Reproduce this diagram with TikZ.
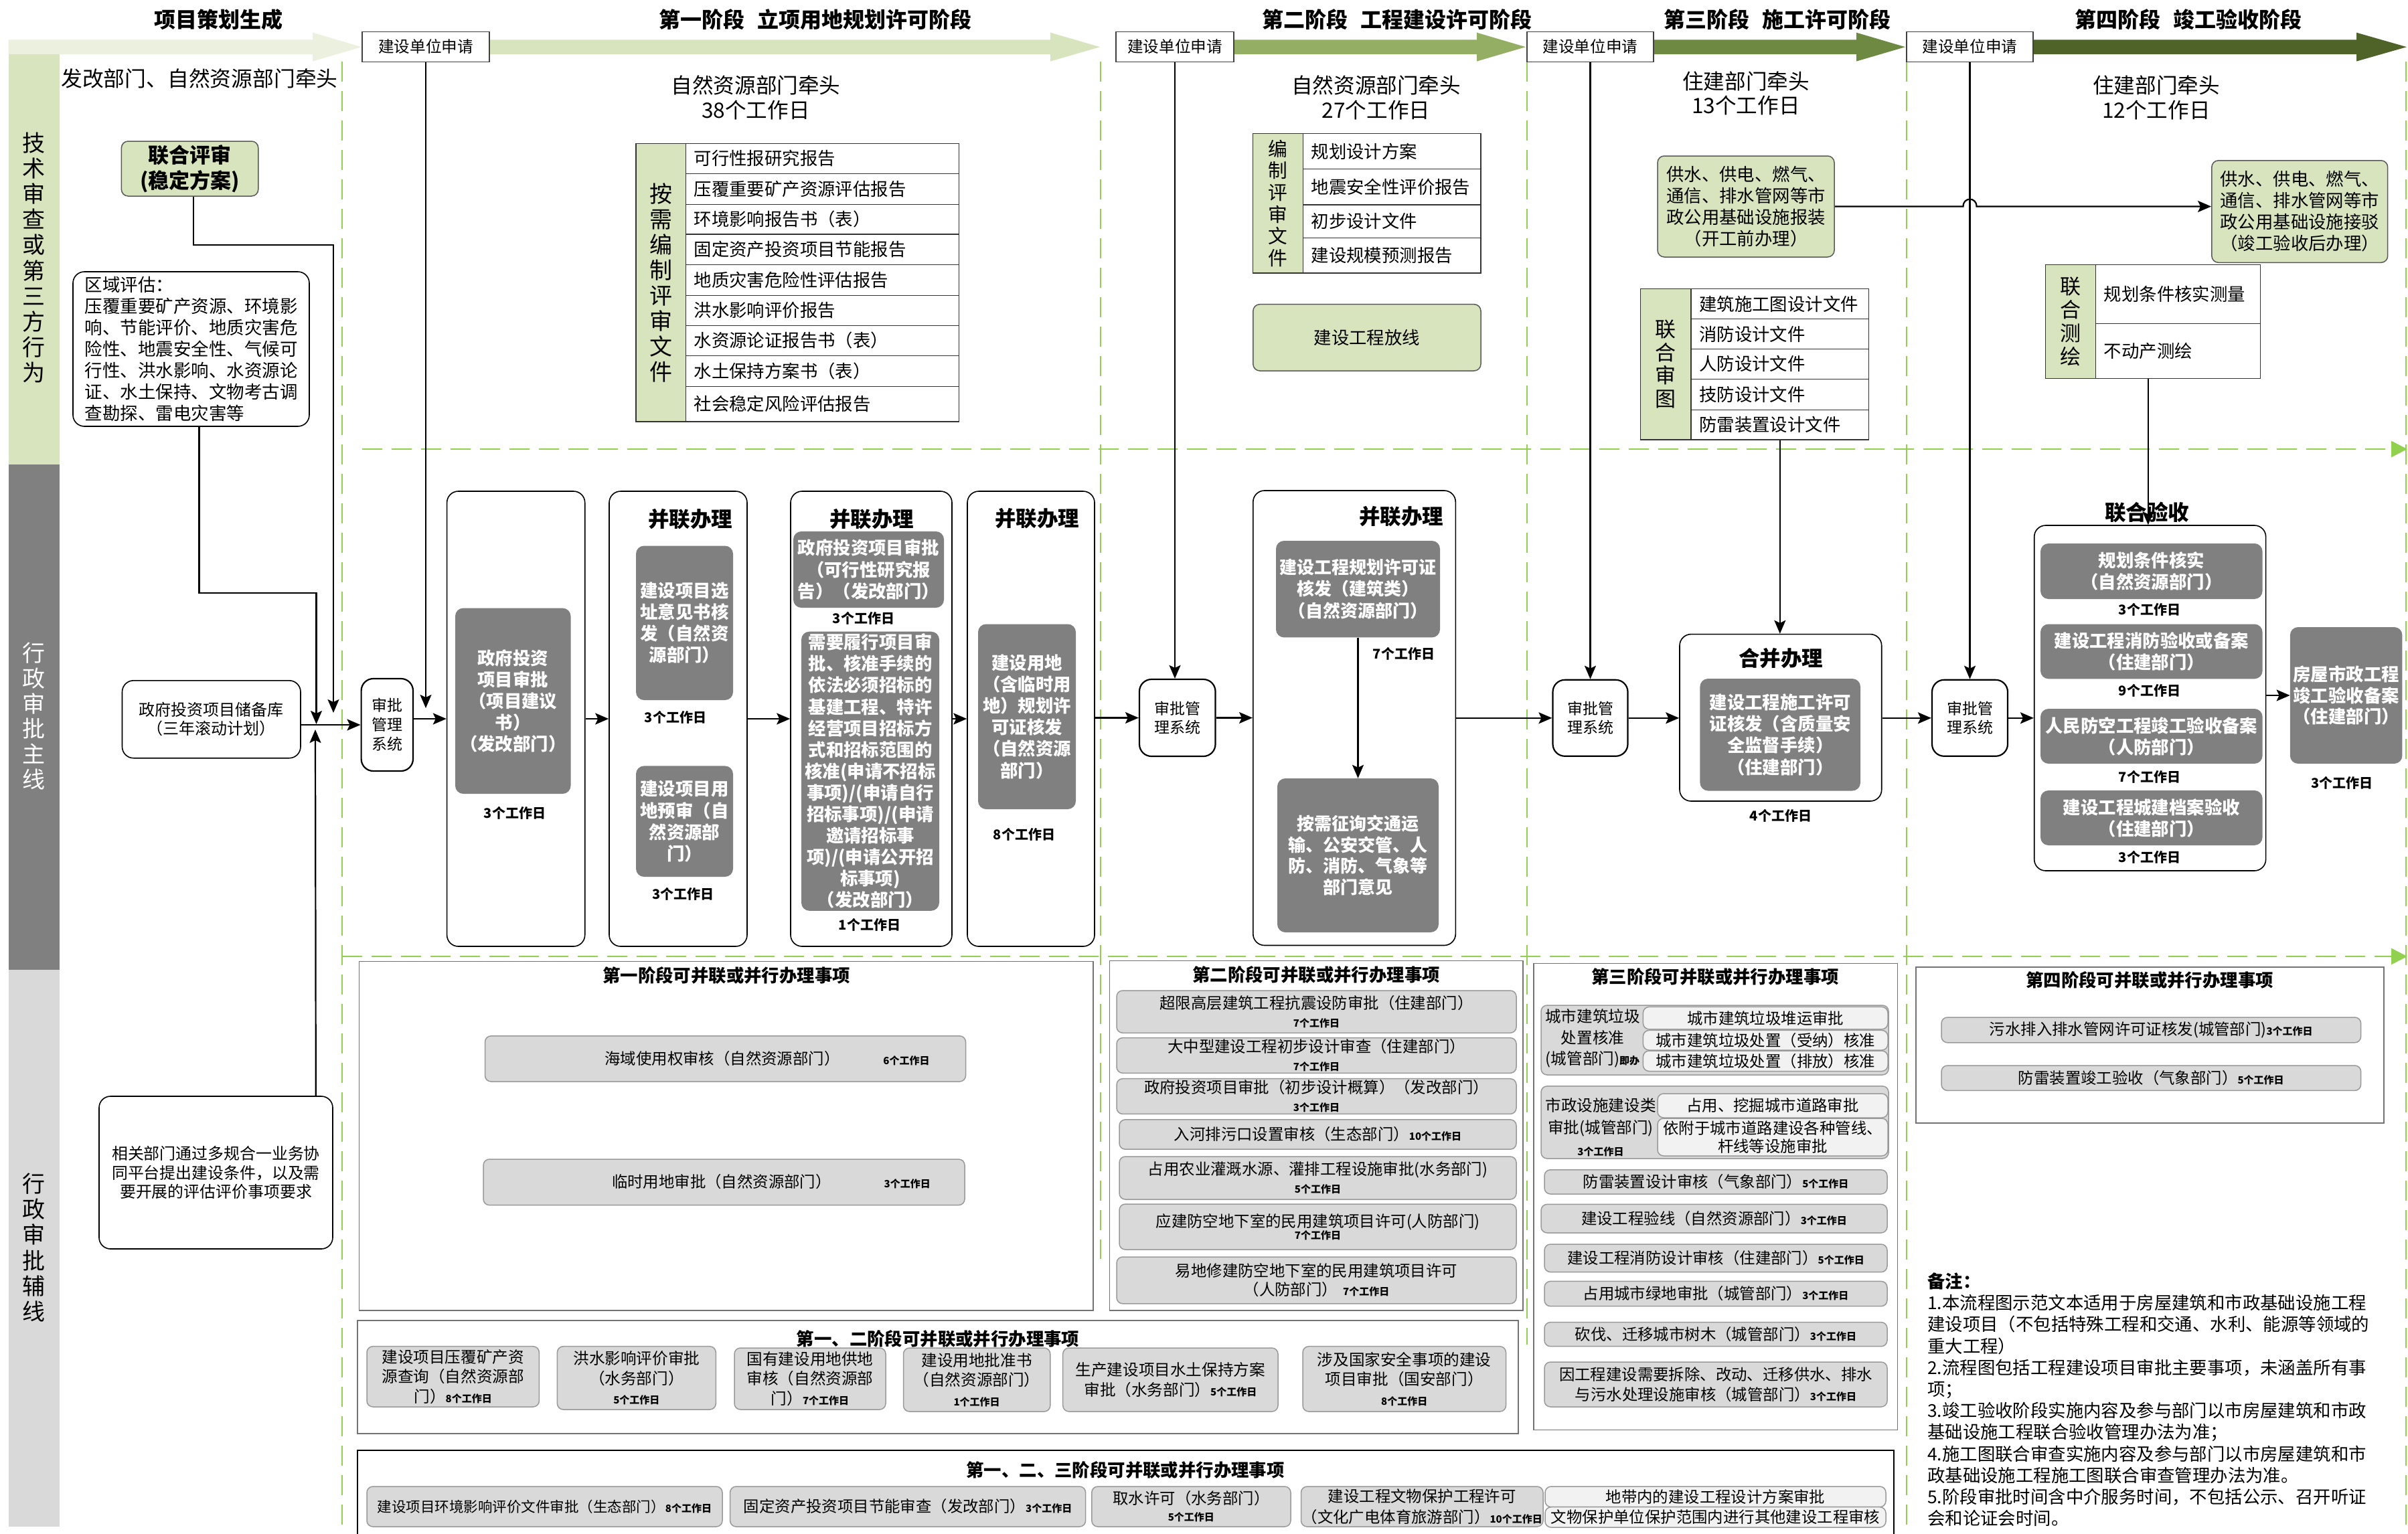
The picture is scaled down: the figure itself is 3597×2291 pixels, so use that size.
\documentclass[tikz,border=0pt]{standalone}
\usepackage{fontspec}
\setmainfont{Noto Sans CJK SC}
\usetikzlibrary{arrows.meta,calc}
\definecolor{ga1}{HTML}{EBF1DE}
\definecolor{ga2}{HTML}{D7E4BD}
\definecolor{ga3}{HTML}{94AF64}
\definecolor{ga4}{HTML}{6E8A42}
\definecolor{ga5}{HTML}{4F6228}
\definecolor{lgreen}{HTML}{D7E4BD}
\definecolor{lanegray}{HTML}{808080}
\definecolor{dgray}{HTML}{808080}
\definecolor{igray}{HTML}{D9D9D9}
\definecolor{ilight}{HTML}{F2F2F2}
\definecolor{dashg}{HTML}{92D050}
\newcommand\myfs[2]{\fontsize{#1pt}{#2pt}\selectfont}
\newcommand\dd[1]{{\bfseries\myfs{15}{17}#1}}
\newcommand\bx[7]{\node[#2,minimum width={(#5)-(#3)},minimum height={(#6)-(#4)}] (#1) at ({((#3)+(#5))/2},{((#4)+(#6))/2}) {#7};}
\tikzset{
  conn/.style={draw=black,line width=2.2pt,-{Stealth[length=20pt,width=17pt,inset=4pt]}},
  gdash/.style={draw=dashg,line width=2.5pt,dash pattern=on 30pt off 14pt},
  apbox/.style={draw=black!75,line width=1.5pt,fill=white,inner sep=0pt,font=\myfs{23.6}{28}},
  wbox/.style={draw=black,line width=1.6pt,fill=white,rounded corners=17pt,inner sep=0pt},
  sbox/.style={draw=black,line width=2.2pt,fill=white,rounded corners=18pt,inner sep=0pt,align=center,font=\myfs{23}{29}},
  dbox/.style={fill=dgray,rounded corners=12pt,inner sep=0pt,align=center,text=white,font=\bfseries\myfs{26.4}{32.2}},
  gbox/.style={draw=black!65,line width=1.5pt,fill=lgreen,rounded corners=10pt,inner sep=0pt,align=center,font=\myfs{26.4}{32}},
  cell/.style={draw=black!80,line width=1.3pt,fill=white,inner xsep=12pt,inner ysep=0pt,align=left,font=\myfs{26.4}{30}},
  lcell/.style={draw=black!80,line width=1.3pt,fill=lgreen,inner sep=0pt,align=center},
  grpbox/.style={draw=black!55,line width=1.5pt,fill=white,inner sep=0pt},
  itembox/.style={draw=black!40,line width=1.5pt,fill=igray,rounded corners=9pt,inner sep=0pt,align=center,font=\myfs{23.4}{27}},
  litem/.style={itembox,fill=ilight},
  ttl/.style={font=\bfseries\myfs{31.5}{36},inner sep=0pt},
  days/.style={font=\bfseries\myfs{20}{24},inner sep=0pt},
  txt/.style={inner sep=0pt,align=center},
  hdr/.style={font=\bfseries\myfs{32}{36},inner sep=0pt},
  subt/.style={font=\bfseries\myfs{26.4}{30},inner sep=0pt},
}
\begin{document}
\begin{tikzpicture}[x=1pt,y=-1pt]
\useasboundingbox (0,0) rectangle (3597,2291);
\fill[white] (0,0) rectangle (3597,2291);

% stage arrows
\fill[ga1] (12.6,59.5) -- (467,59.5) -- (467,48.7) -- (540,70.2) -- (467,91.6) -- (467,81) -- (12.6,81) -- cycle;
\fill[ga2] (600,59.5) -- (1569,59.5) -- (1569,48.7) -- (1643,70.2) -- (1569,91.6) -- (1569,81) -- (600,81) -- cycle;
\fill[ga3] (1750,59.5) -- (2206,59.5) -- (2206,48.7) -- (2279,70.2) -- (2206,91.6) -- (2206,81) -- (1750,81) -- cycle;
\fill[ga4] (2400,59.5) -- (2773,59.5) -- (2773,48.7) -- (2846,70.2) -- (2773,91.6) -- (2773,81) -- (2400,81) -- cycle;
\fill[ga5] (2950,59.5) -- (3520,59.5) -- (3520,48.7) -- (3595,70.2) -- (3520,91.6) -- (3520,81) -- (2950,81) -- cycle;

% lanes
\fill[lgreen] (12.6,81) rectangle (89,694);
\fill[lanegray] (12.6,694) rectangle (89,1449);
\fill[igray] (12.6,1449) rectangle (89,2281);
\node[txt,font=\myfs{34}{38.2}] (ln1) at (50.8,385) {技\\术\\审\\查\\或\\第\\三\\方\\行\\为};
\node[txt,text=white,font=\myfs{34}{37.7}] (ln2) at (50.8,1070) {行\\政\\审\\批\\主\\线};
\node[txt,font=\myfs{34}{38.3}] (ln3) at (50.8,1864) {行\\政\\审\\批\\辅\\线};

% dashed green
\draw[gdash] (511,92) -- (511,2291);
\draw[gdash] (1644,92) -- (1644,1881);
\draw[gdash] (2281,92) -- (2281,2009);
\draw[gdash] (2848,92) -- (2848,2291);
\draw[gdash] (3594,92) -- (3594,2291);
\draw[gdash,-{Triangle[length=24pt,width=24pt]}] (541,671) -- (3596,671);
\draw[gdash,-{Triangle[length=24pt,width=24pt]}] (511,1429) -- (3596,1429);

% headers
\node[hdr] (h0) at (326,29) {项目策划生成};
\node[hdr] (h1) at (1218,29) {第一阶段\hspace{0.6em}立项用地规划许可阶段};
\node[hdr] (h2) at (2087,29) {第二阶段\hspace{0.6em}工程建设许可阶段};
\node[hdr] (h3) at (2655,29) {第三阶段\hspace{0.6em}施工许可阶段};
\node[hdr] (h4) at (3269,29) {第四阶段\hspace{0.6em}竣工验收阶段};

\bx{ap1}{apbox}{541}{47.3}{731}{92.6}{建设单位申请}
\bx{ap2}{apbox}{1667}{47.3}{1843}{92.6}{建设单位申请}
\bx{ap3}{apbox}{2281}{47.3}{2470}{92.6}{建设单位申请}
\bx{ap4}{apbox}{2848}{47.3}{3037}{92.6}{建设单位申请}

% left column
\node[txt,font=\myfs{31.8}{36}] (lead0) at (298,117) {发改部门、自然资源部门牵头};
\bx{lhps}{gbox,font=\bfseries\myfs{31}{38}}{181.4}{211}{385.8}{293}{联合评审\\(稳定方案)}
\bx{qypg}{wbox,align=left,font=\myfs{26.5}{32.1}}{109}{406}{462}{637}{区域评估：\\压覆重要矿产资源、环境影\\响、节能评价、地质灾害危\\险性、地震安全性、气候可\\行性、洪水影响、水资源论\\证、水土保持、文物考古调\\查勘探、雷电灾害等}
\bx{cbk}{wbox,align=center,font=\myfs{24}{28}}{182.5}{1016.8}{449}{1132.7}{政府投资项目储备库\\（三年滚动计划）}
\bx{sp1}{sbox}{539.6}{1014}{617}{1152}{审批\\管理\\系统}
\bx{xg}{wbox,align=center,font=\myfs{23.9}{28.6}}{148}{1638}{497}{1866}{相关部门通过多规合一业务协\\同平台提出建设条件，以及需\\要开展的评估评价事项要求}

% phase 1 top
\node[txt,font=\myfs{31.6}{37}] (lead1) at (1129,146) {自然资源部门牵头\\38个工作日};
\bx{tb1l}{lcell,font=\myfs{34}{38}}{950}{214.4}{1024.6}{630}{按\\需\\编\\制\\评\\审\\文\\件}
\tikzset{tc1/.style={cell,text width=384pt}}
\bx{r1a}{tc1}{1024.6}{214.4}{1432.7}{259.3}{可行性报研究报告}
\bx{r1b}{tc1}{1024.6}{259.3}{1432.7}{305.6}{压覆重要矿产资源评估报告}
\bx{r1c}{tc1}{1024.6}{305.6}{1432.7}{350}{环境影响报告书（表）}
\bx{r1d}{tc1}{1024.6}{350}{1432.7}{395.7}{固定资产投资项目节能报告}
\bx{r1e}{tc1}{1024.6}{395.7}{1432.7}{441.5}{地质灾害危险性评估报告}
\bx{r1f}{tc1}{1024.6}{441.5}{1432.7}{486.4}{洪水影响评价报告}
\bx{r1g}{tc1}{1024.6}{486.4}{1432.7}{531.2}{水资源论证报告书（表）}
\bx{r1h}{tc1}{1024.6}{531.2}{1432.7}{577.5}{水土保持方案书（表）}
\bx{r1i}{tc1}{1024.6}{577.5}{1432.7}{630}{社会稳定风险评估报告}

% phase 2 top
\node[txt,font=\myfs{31.6}{37}] (lead2) at (2055.6,146) {自然资源部门牵头\\27个工作日};
\bx{tb2l}{lcell,font=\myfs{28.7}{32.6}}{1871.8}{199.8}{1946.4}{408}{编\\制\\评\\审\\文\\件}
\tikzset{tc2/.style={cell,text width=241pt}}
\bx{r2a}{tc2}{1946.4}{199.8}{2212}{252.4}{规划设计方案}
\bx{r2b}{tc2}{1946.4}{252.4}{2212}{306}{地震安全性评价报告}
\bx{r2c}{tc2}{1946.4}{306}{2212}{355.8}{初步设计文件}
\bx{r2d}{tc2}{1946.4}{355.8}{2212}{408}{建设规模预测报告}
\bx{fx}{gbox}{1871.8}{454.7}{2212}{554}{建设工程放线}

% phase 3 top
\node[txt,font=\myfs{31.6}{36}] (lead3) at (2608,139) {住建部门牵头\\13个工作日};
\bx{gs1}{gbox}{2476}{233}{2740}{384}{供水、供电、燃气、\\通信、排水管网等市\\政公用基础设施报装\\（开工前办理）}
\bx{tb3l}{lcell,font=\myfs{31}{34.5}}{2450.4}{431.3}{2526}{657}{联\\合\\审\\图}
\bx{r3a}{tc2}{2526}{431.3}{2791.6}{476.6}{建筑施工图设计文件}
\bx{r3b}{tc2}{2526}{476.6}{2791.6}{521.4}{消防设计文件}
\bx{r3c}{tc2}{2526}{521.4}{2791.6}{566.3}{人防设计文件}
\bx{r3d}{tc2}{2526}{566.3}{2791.6}{612.6}{技防设计文件}
\bx{r3e}{tc2}{2526}{612.6}{2791.6}{657}{防雷装置设计文件}

% phase 4 top
\node[txt,font=\myfs{31.6}{37}] (lead4) at (3221,146) {住建部门牵头\\12个工作日};
\bx{gs2}{gbox}{3303.8}{239.8}{3566.7}{392.3}{供水、供电、燃气、\\通信、排水管网等市\\政公用基础设施接驳\\（竣工验收后办理）}
\bx{tb4l}{lcell,font=\myfs{31}{35.3}}{3055.8}{395.7}{3130.8}{565.3}{联\\合\\测\\绘}
\tikzset{tc4/.style={cell,text width=222pt}}
\bx{r4a}{tc4}{3130.8}{395.7}{3376.8}{483.4}{规划条件核实测量}
\bx{r4b}{tc4}{3130.8}{483.4}{3376.8}{565.3}{不动产测绘}

% phase 1 main
\bx{p1a}{wbox}{667.6}{734}{873.7}{1414}{}
\bx{g1}{dbox}{680}{908.6}{852.5}{1186}{政府投资\\项目审批\\（项目建议\\书）\\（发改部门）}
\node[days] (d1) at (769,1215) {3个工作日};
\bx{p1b}{wbox}{910}{734}{1116}{1414}{}
\node[ttl] (t1b) at (1031,775.5) {并联办理};
\bx{g2}{dbox}{950}{815.5}{1095}{1046}{建设项目选\\址意见书核\\发（自然资\\源部门）}
\node[days] (d2) at (1009,1071.8) {3个工作日};
\bx{g3}{dbox}{950}{1144.4}{1095}{1310}{建设项目用\\地预审（自\\然资源部\\门）}
\node[days] (d3) at (1020.5,1336) {3个工作日};
\bx{p1c}{wbox}{1181}{734}{1422}{1414}{}
\node[ttl] (t1c) at (1302,775.5) {并联办理};
\bx{g4}{dbox}{1185}{794}{1410}{908}{政府投资项目审批\\（可行性研究报\\告）（发改部门）}
\node[days] (d4) at (1290,924) {3个工作日};
\bx{g5}{dbox,font=\bfseries\myfs{26.4}{32.1}}{1197}{943.7}{1403}{1360.8}{需要履行项目审\\批、核准手续的\\依法必须招标的\\基建工程、特许\\经营项目招标方\\式和招标范围的\\核准(申请不招标\\事项)/(申请自行\\招标事项)/(申请\\邀请招标事\\项)/(申请公开招\\标事项)\\（发改部门）}
\node[days] (d5) at (1299,1382) {1个工作日};
\bx{p1d}{wbox}{1445}{734}{1635}{1414}{}
\node[ttl] (t1d) at (1549,775) {并联办理};
\bx{g6}{dbox}{1461}{932.5}{1607}{1209}{建设用地\\（含临时用\\地）规划许\\可证核发\\（自然资源\\部门）}
\node[days] (d6) at (1530,1246.8) {8个工作日};
\bx{sp2}{sbox,font=\myfs{23}{28.5}}{1702}{1015}{1815.5}{1130}{审批管\\理系统}

% phase 2 main
\bx{p2a}{wbox}{1871.8}{733}{2174.3}{1412.5}{}
\node[ttl] (t2a) at (2093,772) {并联办理};
\bx{g7}{dbox,font=\bfseries\myfs{26}{32.2}}{1906}{808}{2151}{952.4}{建设工程规划许可证\\核发（建筑类）\\（自然资源部门）}
\node[days] (d7) at (2097,976.8) {7个工作日};
\bx{g8}{dbox,font=\bfseries\myfs{26}{31.7}}{1908}{1163}{2149}{1393}{按需征询交通运\\输、公安交管、人\\防、消防、气象等\\部门意见}
\bx{sp3}{sbox,font=\myfs{23}{28.5}}{2319.5}{1015.8}{2431.5}{1129.8}{审批管\\理系统}

% phase 3 main
\bx{p3a}{wbox}{2509}{947.6}{2810.7}{1197}{}
\node[ttl] (t3a) at (2660,983.6) {合并办理};
\bx{g9}{dbox}{2539.4}{1014}{2779}{1181.5}{建设工程施工许可\\证核发（含质量安\\全监督手续）\\（住建部门）}
\node[days] (d9) at (2660,1219) {4个工作日};
\bx{sp4}{sbox,font=\myfs{23}{28.5}}{2886}{1015.8}{2999}{1129.8}{审批管\\理系统}

% phase 4 main
\node[ttl] (t4a) at (3207,765.8) {联合验收};
\bx{p4a}{wbox}{3038.7}{785}{3384.6}{1301}{}
\bx{g10}{dbox}{3048}{812}{3379.6}{895}{规划条件核实\\（自然资源部门）}
\node[days] (d10) at (3211,911) {3个工作日};
\bx{g11}{dbox}{3048}{932.5}{3379.6}{1014.3}{建设工程消防验收或备案\\（住建部门）}
\node[days] (d11) at (3211,1032) {9个工作日};
\bx{g12}{dbox}{3048}{1059}{3379.6}{1141}{人民防空工程竣工验收备案\\（人防部门）}
\node[days] (d12) at (3211,1160.5) {7个工作日};
\bx{g13}{dbox}{3048}{1181}{3379.6}{1263}{建设工程城建档案验收\\（住建部门）}
\node[days] (d13) at (3211,1281) {3个工作日};
\bx{fw}{dbox,font=\bfseries\myfs{26.4}{31.7}}{3420.8}{937}{3588.4}{1141}{房屋市政工程\\竣工验收备案\\（住建部门）}
\node[days] (dfw) at (3498.6,1170) {3个工作日};

% connectors
\coordinate (tA) at (498,1065);
\coordinate (tB) at (472.5,1082);
\coordinate (tC) at (471,1090);
\coordinate (tD) at (636,1058);
\draw[conn] ([xshift=5pt]lhps.south) -- ++(0,72.5) -| (tA);
\draw[conn] ([xshift=12pt]qypg.south) -- ++(0,248) -| (tB);
\draw[conn] ([xshift=-26pt]xg.north east) -- (tC);
\draw[conn] (ap1.south) -- (tD);
\draw[conn] (ap2.south) -- (ap2.south |- sp2.north);
\draw[conn] (ap3.south) -- (ap3.south |- sp3.north);
\draw[conn] (ap4.south) -- (ap4.south |- sp4.north);
\draw[conn] (cbk.east |- sp1.west) -- (sp1.west);
\draw[conn] (sp1.east |- p1a.west) -- (p1a.west);
\draw[conn] (p1a.east) -- (p1b.west);
\draw[conn] (p1b.east) -- (p1c.west);
\draw[conn] (p1c.east) -- (p1d.west);
\draw[conn] (p1d.east |- sp2.west) -- (sp2.west);
\draw[conn] (sp2.east) -- (sp2.east -| p2a.west);
\draw[conn] (p2a.east |- sp3.west) -- (sp3.west);
\draw[conn] (sp3.east) -- (sp3.east -| p3a.west);
\draw[conn] (p3a.east |- sp4.west) -- (sp4.west);
\draw[conn] (sp4.east) -- (sp4.east -| p4a.west);
\draw[conn] (p4a.east |- fw.west) -- (fw.west);
\draw[conn] (g7.south) -- (g8.north);
\draw[conn] (r3e.south) -- (r3e.south |- p3a.north);
\coordinate (c4) at ([xshift=-45pt]r4b.south);
\draw[conn] (c4) -- (c4 |- p4a.north);
\draw[conn] (gs1.east) -- (2932.5,308.5) .. controls (2932.5,294) and (2952.5,294) .. (2952.5,308.5) -- (gs2.west |- gs1.east);

% bottom: stage 1
\bx{bb1}{grpbox}{536.7}{1436.7}{1633}{1957.8}{}
\node[subt] (tbb1) at (1085,1457.8) {第一阶段可并联或并行办理事项};
\bx{i11}{itembox}{724.5}{1547.8}{1442.5}{1616}{}
\node[txt,font=\myfs{23.4}{27}] (i11t) at (1146,1582) {海域使用权审核（自然资源部门）\hspace{65pt}\dd{6个工作日}};
\bx{i12}{itembox}{722}{1732}{1441}{1800.6}{}
\node[txt,font=\myfs{23.4}{27}] (i12t) at (1152,1766) {临时用地审批（自然资源部门）\hspace{79pt}\dd{3个工作日}};

% bottom: stage 1-2
\bx{bb2}{grpbox}{534}{1972.8}{2268}{2142}{}
\node[subt] (tbb2) at (1401,2000) {第一、二阶段可并联或并行办理事项};
\tikzset{it2/.style={itembox,font=\myfs{23.6}{29.3}}}
\bx{i21}{it2}{548}{2011.7}{805.4}{2102}{建设项目压覆矿产资\\源查询（自然资源部\\门）\dd{8个工作日}}
\bx{i22}{it2}{832.4}{2011.7}{1069.3}{2106}{洪水影响评价审批\\（水务部门）\\\dd{5个工作日}}
\bx{i23}{it2}{1097}{2014}{1323}{2106}{国有建设用地供地\\审核（自然资源部\\门）\dd{7个工作日}}
\bx{i24}{it2}{1349.5}{2014}{1568.8}{2109}{建设用地批准书\\（自然资源部门）\\\dd{1个工作日}}
\bx{i25}{it2}{1587.7}{2014}{1909}{2109}{生产建设项目水土保持方案\\审批（水务部门）\dd{5个工作日}}
\bx{i26}{it2}{1946}{2011.7}{2249.5}{2109}{涉及国家安全事项的建设\\项目审批（国安部门）\\\dd{8个工作日}}

% bottom: stage 1-2-3
\draw[draw=black,line width=2pt] (534,2167) rectangle (2829,2310);
\node[subt] (tbb3) at (1681,2196) {第一、二、三阶段可并联或并行办理事项};
\bx{i31}{itembox,font=\myfs{21.5}{26}}{548}{2221}{1079}{2281}{建设项目环境影响评价文件审批（生态部门）\dd{8个工作日}}
\bx{i32}{itembox}{1090.6}{2221}{1621.6}{2281}{固定资产投资项目节能审查（发改部门）\dd{3个工作日}}
\bx{i33}{itembox,font=\myfs{23.4}{25}}{1630.8}{2221}{1928}{2281}{取水许可（水务部门）\\\dd{5个工作日}}
\bx{i34}{itembox,font=\myfs{23.4}{31}}{1943.5}{2221}{2305}{2281}{建设工程文物保护工程许可\\（文化广电体育旅游部门）\dd{10个工作日}}
\bx{i35a}{litem}{2308}{2221}{2817}{2251.7}{地带内的建设工程设计方案审批}
\bx{i35b}{litem}{2308}{2251.7}{2817}{2282}{文物保护单位保护范围内进行其他建设工程审核}

% bottom: stage 2
\bx{bb4}{grpbox}{1657.7}{1435.6}{2275}{1957.8}{}
\node[subt] (tbb4) at (1966,1456) {第二阶段可并联或并行办理事项};
\bx{i41}{itembox}{1668}{1480}{2265}{1543.3}{超限高层建筑工程抗震设防审批（住建部门）\\\dd{7个工作日}}
\bx{i42}{itembox}{1668}{1550.6}{2265}{1603.3}{大中型建设工程初步设计审查（住建部门）\\\dd{7个工作日}}
\bx{i43}{itembox}{1668}{1611.7}{2265}{1664.4}{政府投资项目审批（初步设计概算）（发改部门）\\\dd{3个工作日}}
\bx{i44}{itembox}{1672}{1672.8}{2265}{1717.2}{入河排污口设置审核（生态部门）\dd{10个工作日}}
\bx{i45}{itembox}{1672}{1728}{2265}{1792}{占用农业灌溉水源、灌排工程设施审批(水务部门)\\\dd{5个工作日}}
\bx{i46}{itembox,font=\myfs{23.4}{18}}{1672}{1799}{2265}{1867}{应建防空地下室的民用建筑项目许可(人防部门)\\\dd{7个工作日}}
\bx{i47}{itembox,font=\myfs{23.4}{28}}{1668}{1878}{2265}{1947.8}{易地修建防空地下室的民用建筑项目许可\\（人防部门）\hspace{8pt}\dd{7个工作日}}

% bottom: stage 3
\bx{bb5}{grpbox}{2290.8}{1439.4}{2834.5}{2136.7}{}
\node[subt] (tbb5) at (2562,1459) {第三阶段可并联或并行办理事项};
\bx{grp1}{itembox}{2302}{1502}{2821}{1606}{}
\node[txt,font=\myfs{23.6}{31.4}] (grp1t) at (2379,1551.4) {城市建筑垃圾\\处置核准\\(城管部门)\dd{即办}};
\bx{s11}{litem}{2454.4}{1504.4}{2820}{1537.8}{城市建筑垃圾堆运审批}
\bx{s12}{litem}{2454.4}{1539.4}{2820}{1569}{城市建筑垃圾处置（受纳）核准}
\bx{s13}{litem}{2454.4}{1570}{2820}{1600.5}{城市建筑垃圾处置（排放）核准}
\bx{grp2}{itembox}{2302}{1622.8}{2821}{1731}{}
\node[txt,font=\myfs{23.6}{33}] (grp2t) at (2391,1683.8) {市政设施建设类\\审批(城管部门)\\\dd{3个工作日}};
\bx{s21}{litem}{2476}{1634}{2820}{1670}{占用、挖掘城市道路审批}
\bx{s22}{litem}{2476}{1671}{2820}{1727}{依附于城市道路建设各种管线、\\杆线等设施审批}
\bx{i51}{itembox}{2307}{1747.8}{2819}{1784}{防雷装置设计审核（气象部门）\dd{5个工作日}}
\bx{i52}{itembox}{2302}{1799.4}{2819}{1842}{建设工程验线（自然资源部门）\dd{3个工作日}}
\bx{i53}{itembox}{2307}{1859}{2819}{1900.6}{建设工程消防设计审核（住建部门）\dd{5个工作日}}
\bx{i54}{itembox}{2307}{1914.4}{2819}{1951.7}{占用城市绿地审批（城管部门）\dd{3个工作日}}
\bx{i55}{itembox}{2307}{1975.6}{2819}{2011.7}{砍伐、迁移城市树木（城管部门）\dd{3个工作日}}
\bx{i56}{itembox,font=\myfs{23.4}{29.5}}{2307}{2035}{2819}{2102}{因工程建设需要拆除、改动、迁移供水、排水\\与污水处理设施审核（城管部门）\dd{3个工作日}}

% bottom: stage 4
\bx{bb6}{grpbox}{2862}{1445}{3561}{1678}{}
\node[subt] (tbb6) at (3211,1464.4) {第四阶段可并联或并行办理事项};
\bx{i61}{itembox}{2900}{1520}{3526.6}{1557.8}{污水排入排水管网许可证核发(城管部门)\dd{3个工作日}}
\bx{i62}{itembox}{2900}{1592}{3526.6}{1629.4}{防雷装置竣工验收（气象部门）\dd{5个工作日}}

% notes
\node[anchor=west,align=left,inner sep=0pt,font=\myfs{26.4}{32.2}] (notes) at (2879,2091.2) {{\bfseries 备注：}\\1.本流程图示范文本适用于房屋建筑和市政基础设施工程\\建设项目（不包括特殊工程和交通、水利、能源等领域的\\重大工程）\\2.流程图包括工程建设项目审批主要事项，未涵盖所有事\\项；\\3.竣工验收阶段实施内容及参与部门以市房屋建筑和市政\\基础设施工程联合验收管理办法为准；\\4.施工图联合审查实施内容及参与部门以市房屋建筑和市\\政基础设施工程施工图联合审查管理办法为准。\\5.阶段审批时间含中介服务时间，不包括公示、召开听证\\会和论证会时间。};
\end{tikzpicture}
\end{document}
